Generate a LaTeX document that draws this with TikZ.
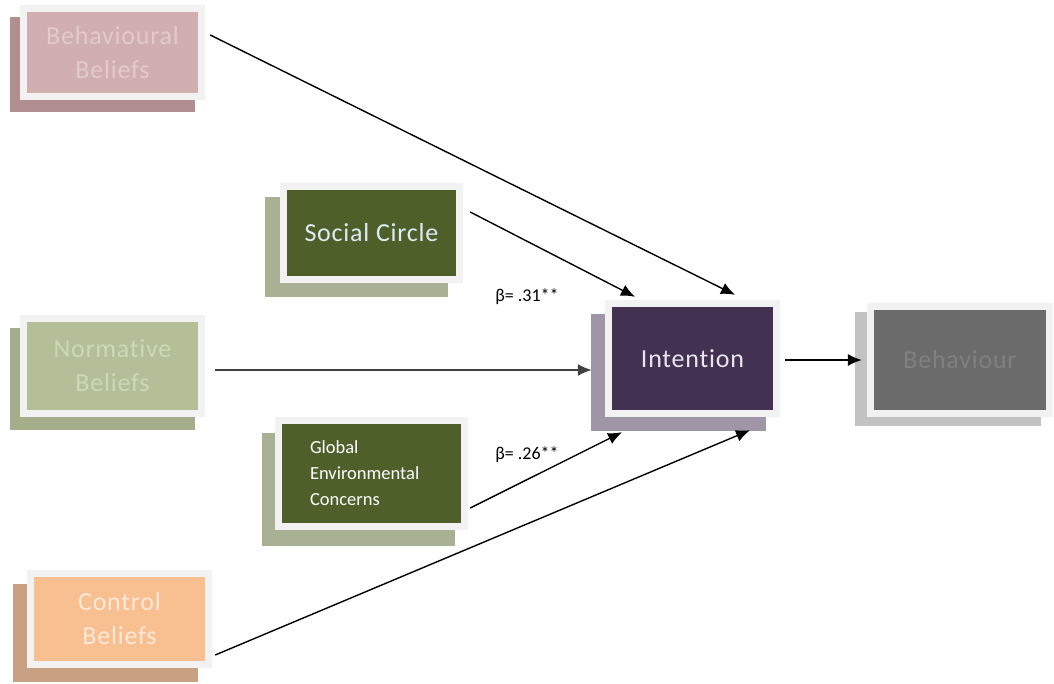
\documentclass[tikz,border=0pt]{standalone}
\usepackage{fontspec}
\setmainfont{Carlito}[Ligatures=CommonOff]
\usepackage{xcolor}
\usetikzlibrary{shadows,arrows.meta}

\definecolor{framegray}{HTML}{F2F2F2}
\definecolor{bbfill}{HTML}{D1AEAF}
\definecolor{bbshade}{HTML}{B18E90}
\definecolor{bbtext}{HTML}{E3CACB}
\definecolor{scfill}{HTML}{4F5F2A}
\definecolor{scshade}{HTML}{A8B193}
\definecolor{sctext}{HTML}{DDEBF7}
\definecolor{nbfill}{HTML}{B4BF97}
\definecolor{nbshade}{HTML}{A4AE8B}
\definecolor{nbtext}{HTML}{CDD8B7}
\definecolor{cbfill}{HTML}{F8BF90}
\definecolor{cbshade}{HTML}{C9A182}
\definecolor{cbtext}{HTML}{FDE9D9}
\definecolor{intfill}{HTML}{433152}
\definecolor{intshade}{HTML}{9F95A6}
\definecolor{inttext}{HTML}{E8E4F0}
\definecolor{behfill}{HTML}{6B6B6B}
\definecolor{behshade}{HTML}{C2C2C2}
\definecolor{behtext}{HTML}{808080}

\newfontfamily\boxfont{Carlito}[Ligatures=CommonOff, LetterSpace=3]

\tikzset{
    tpbox/.style={rectangle, fill=framegray, align=center, inner sep=0pt,
        font=\boxfont\fontsize{26}{34}\selectfont},
    inner/.style={path picture={\fill[#1] ([shift={(7pt,7pt)}]path picture bounding box.south west)
        rectangle ([shift={(-7pt,-7pt)}]path picture bounding box.north east);}},
    backdrop/.style n args={3}{drop shadow={shadow xshift=#1, shadow yshift=#2, fill=#3, opacity=1}},
    link/.style={line width=1.4pt, -{Latex[length=14pt,width=12pt]}},
    beta/.style={font=\fontsize{18}{22}\selectfont}
}

\begin{document}
\begin{tikzpicture}[x=1pt, y=1pt]
    \useasboundingbox (0,0) rectangle (1054,-683);

    % left column
    \node[tpbox, inner=bbfill, backdrop={-10pt}{-12pt}{bbshade}, text=bbtext,
        minimum width=185pt, minimum height=95pt] (bb) at (112.5,-52.5) {Behavioural\\Beliefs};
    \node[tpbox, inner=nbfill, backdrop={-10pt}{-13pt}{nbshade}, text=nbtext,
        minimum width=185pt, minimum height=102pt] (nb) at (112.5,-366) {Normative\\Beliefs};
    \node[tpbox, inner=cbfill, backdrop={-14pt}{-14pt}{cbshade}, text=cbtext,
        minimum width=185pt, minimum height=98pt] (cb) at (119.5,-619) {Control\\Beliefs};

    % middle column
    \node[tpbox, inner=scfill, backdrop={-15pt}{-14pt}{scshade}, text=sctext,
        minimum width=183pt, minimum height=100pt] (sc) at (371.5,-233) {Social Circle};
    \node[tpbox, inner=scfill, backdrop={-13pt}{-16pt}{scshade}, text=white, align=left,
        text width=123pt, font=\fontsize{18.5}{26}\selectfont,
        minimum width=193pt, minimum height=113pt] (gec) at (371.5,-473.5) {Global\\Environmental\\Concerns};

    % right side
    \node[tpbox, inner=intfill, backdrop={-14pt}{-14pt}{intshade}, text=inttext,
        minimum width=175pt, minimum height=117pt] (int) at (692.5,-358.5) {Intention};
    \node[tpbox, inner=behfill, backdrop={-12pt}{-9pt}{behshade}, text=behtext,
        minimum width=186pt, minimum height=114pt] (beh) at (960,-360) {Behaviour};

    % paths
    \draw[link] ([shift={(5pt,17.5pt)}]bb.east) -- ([shift={(42.5pt,5pt)}]int.north);
    \draw[link] ([shift={(7pt,21pt)}]sc.east) -- ([shift={(-57.5pt,3pt)}]int.north);
    \draw[link, black!75, line width=1.8pt] ([shift={(10pt,-4pt)}]nb.east) -- ([shift={(-13pt,-11.5pt)}]int.west);
    \draw[link] ([shift={(2pt,-34.5pt)}]gec.east) -- ([shift={(-70.5pt,-15pt)}]int.south);
    \draw[link] ([shift={(3pt,-36pt)}]cb.east) -- ([shift={(57.5pt,-13pt)}]int.south);
    \draw[link] ([shift={(5pt,-1.5pt)}]int.east) -- ([shift={(-5pt,0pt)}]beh.west);

    \node[beta] (b31) at (527,-297) {β= .31**};
    \node[beta] (b26) at (527,-455) {β= .26**};
\end{tikzpicture}
\end{document}
